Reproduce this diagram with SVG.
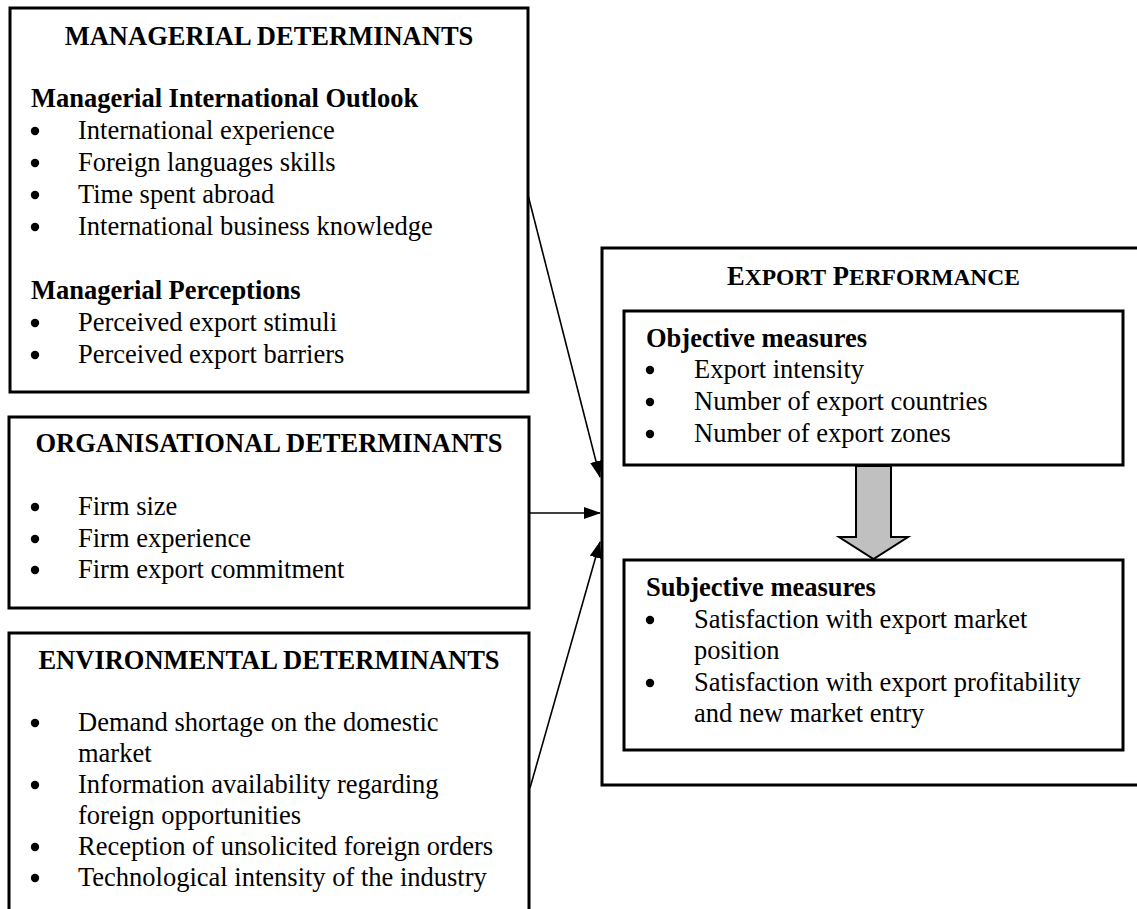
<svg xmlns="http://www.w3.org/2000/svg" width="1137" height="909" viewBox="0 0 1137 909">
<defs>
<style>
.box{fill:#fff;stroke:#000;stroke-width:3}
.t{font-family:"Liberation Serif","Times New Roman",serif;font-size:26.5px;fill:#000}
.b{font-weight:bold}
.c{text-anchor:middle}
.conn{stroke:#000;stroke-width:1.6;fill:none}
</style>
<marker id="ah" markerUnits="userSpaceOnUse" markerWidth="17" markerHeight="12" refX="16" refY="6" orient="auto">
<path d="M0,0 L17,6 L0,12 Z" fill="#000"/>
</marker>
<symbol id="bul" overflow="visible"><circle cx="0" cy="0" r="4.2" fill="#000"/></symbol>
</defs>
<rect width="1137" height="909" fill="#fff"/>

<g id="managerial">
<rect class="box" x="10" y="8" width="518" height="384"/>
<text class="t b c" x="269" y="45">MANAGERIAL DETERMINANTS</text>
<text class="t b" x="31" y="107">Managerial International Outlook</text>
<use href="#bul" x="35" y="131"/><text class="t" x="78" y="139">International experience</text>
<use href="#bul" x="35" y="163"/><text class="t" x="78" y="171">Foreign languages skills</text>
<use href="#bul" x="35" y="195"/><text class="t" x="78" y="203">Time spent abroad</text>
<use href="#bul" x="35" y="227"/><text class="t" x="78" y="235">International business knowledge</text>
<text class="t b" x="31" y="299">Managerial Perceptions</text>
<use href="#bul" x="35" y="323"/><text class="t" x="78" y="331">Perceived export stimuli</text>
<use href="#bul" x="35" y="355"/><text class="t" x="78" y="363">Perceived export barriers</text>
</g>

<g id="organisational">
<rect class="box" x="9" y="417" width="520" height="191"/>
<text class="t b c" x="269" y="452">ORGANISATIONAL DETERMINANTS</text>
<use href="#bul" x="35" y="507"/><text class="t" x="78" y="515">Firm size</text>
<use href="#bul" x="35" y="539"/><text class="t" x="78" y="547">Firm experience</text>
<use href="#bul" x="35" y="570"/><text class="t" x="78" y="578">Firm export commitment</text>
</g>

<g id="environmental">
<rect class="box" x="9" y="633" width="520" height="300"/>
<text class="t b c" x="269" y="669">ENVIRONMENTAL DETERMINANTS</text>
<use href="#bul" x="35" y="723"/><text class="t" x="78" y="731">Demand shortage on the domestic</text>
<text class="t" x="78" y="762">market</text>
<use href="#bul" x="35" y="785"/><text class="t" x="78" y="793">Information availability regarding</text>
<text class="t" x="78" y="824">foreign opportunities</text>
<use href="#bul" x="35" y="847"/><text class="t" x="78" y="855">Reception of unsolicited foreign orders</text>
<use href="#bul" x="35" y="878"/><text class="t" x="78" y="886">Technological intensity of the industry</text>
</g>

<g id="export-performance">
<rect class="box" x="602" y="248" width="560" height="537"/>
<text class="t b c" x="873.5" y="285" font-size="27">E<tspan font-size="23.5">XPORT</tspan> P<tspan font-size="23.5">ERFORMANCE</tspan></text>
</g>

<g id="objective">
<rect class="box" x="624" y="311" width="499" height="154"/>
<text class="t b" x="646" y="347">Objective measures</text>
<use href="#bul" x="650" y="370"/><text class="t" x="694" y="378">Export intensity</text>
<use href="#bul" x="650" y="402"/><text class="t" x="694" y="410">Number of export countries</text>
<use href="#bul" x="650" y="434"/><text class="t" x="694" y="442">Number of export zones</text>
</g>

<g id="subjective">
<rect class="box" x="624" y="560" width="499" height="190"/>
<text class="t b" x="646" y="596">Subjective measures</text>
<use href="#bul" x="650" y="620"/><text class="t" x="694" y="628">Satisfaction with export market</text>
<text class="t" x="694" y="659">position</text>
<use href="#bul" x="650" y="683"/><text class="t" x="694" y="691">Satisfaction with export profitability</text>
<text class="t" x="694" y="722">and new market entry</text>
</g>

<g id="connectors">
<line class="conn" x1="528" y1="195" x2="600" y2="477" marker-end="url(#ah)"/>
<line class="conn" x1="529" y1="513" x2="600" y2="513" marker-end="url(#ah)"/>
<line class="conn" x1="530" y1="788" x2="600" y2="542" marker-end="url(#ah)"/>
<polygon points="856,466 891,466 891,537 908,537 873.5,559 839,537 856,537" fill="#c0c0c0" stroke="#000" stroke-width="2"/>
</g>
</svg>
